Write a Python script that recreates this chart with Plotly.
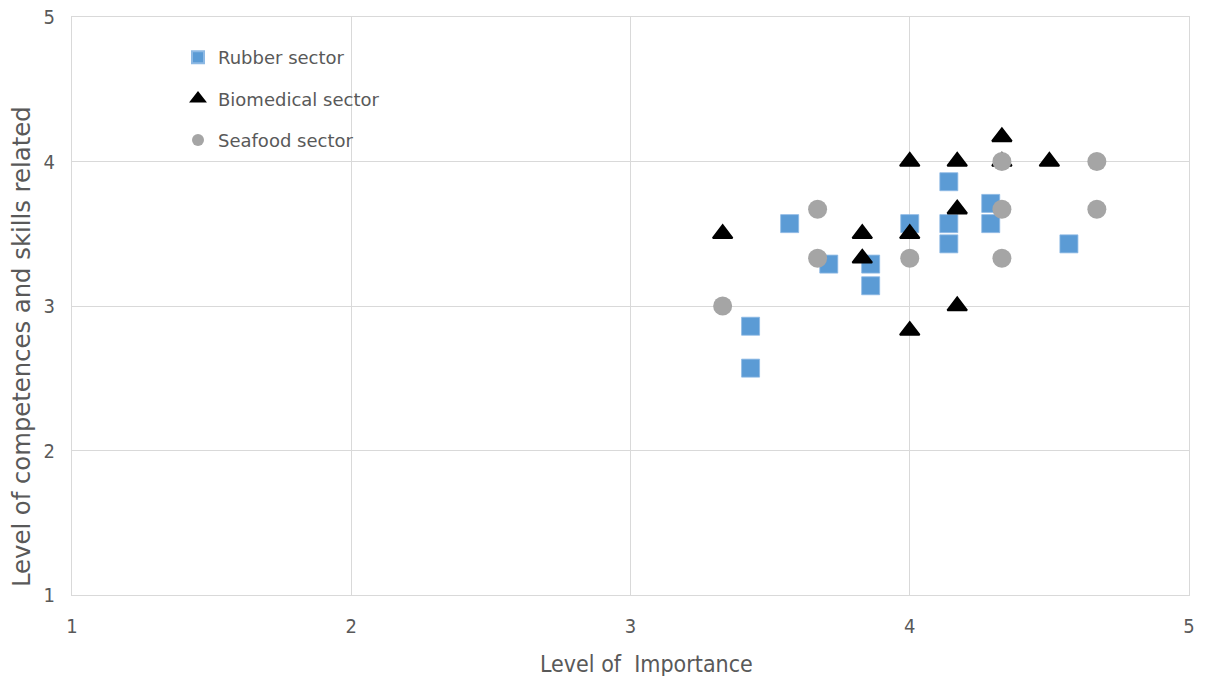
import plotly.graph_objects as go

# Rubber sector
rubber_x = [3.43, 3.43, 3.57, 3.71, 3.86, 3.86, 4.00, 4.14, 4.14, 4.14, 4.29, 4.29, 4.57]
rubber_y = [2.57, 2.86, 3.57, 3.29, 3.29, 3.14, 3.57, 3.86, 3.57, 3.43, 3.71, 3.57, 3.43]

# Biomedical sector
bio_x = [3.33, 3.83, 3.83, 4.00, 4.00, 4.00, 4.17, 4.17, 4.17, 4.33, 4.33, 4.50]
bio_y = [3.50, 3.50, 3.33, 4.00, 3.50, 2.83, 4.00, 3.67, 3.00, 4.17, 4.00, 4.00]

# Seafood sector
sea_x = [3.33, 3.67, 3.67, 4.00, 4.33, 4.33, 4.33, 4.67, 4.67]
sea_y = [3.00, 3.67, 3.33, 3.33, 4.00, 3.67, 3.33, 4.00, 3.67]

tick_vals = [1, 2, 3, 4, 5]
x_title = "Level of  Importance"
y_title = "Level of competences and skills related"

NARROW = "'Liberation Sans Narrow', 'DejaVu Sans Condensed', 'Roboto Condensed', 'Arial Narrow', sans-serif"
WIDE = "'DejaVu Sans', sans-serif"
TXT = "#595959"
GRID = "#D9D9D9"

# the page body adds an 8px offset; the figure is sized to fill the rest
W, H = 1199, 668
L, R, T, B = 64, 18, 9, 81
PW, PH = W - L - R, H - T - B

fig = go.Figure()
fig.add_trace(go.Scatter(
    x=rubber_x, y=rubber_y, mode="markers", name="Rubber sector",
    legendgroup="r",
    marker=dict(symbol="square", size=18, color="#5B9BD5",
                line=dict(color="#8DB9E4", width=0.8))))
fig.add_trace(go.Scatter(
    x=bio_x, y=bio_y, mode="markers", name="Biomedical sector",
    legendgroup="b",
    marker=dict(symbol="triangle-up", size=17, color="#000000",
                line=dict(color="#000000", width=2))))
fig.add_trace(go.Scatter(
    x=sea_x, y=sea_y, mode="markers", name="Seafood sector",
    legendgroup="s",
    marker=dict(symbol="circle", size=19, color="#A5A5A5",
                line=dict(color="#A5A5A5", width=0))))

fig.update_layout(
    width=W, height=H,
    margin=dict(l=L, r=R, t=T, b=B, autoexpand=False),
    paper_bgcolor="white", plot_bgcolor="white",
    font=dict(family=NARROW, size=20, color=TXT),
    showlegend=True,
    legend=dict(x=(170 - 64) / PW, y=(587 - 31) / PH, xanchor="left", yanchor="top",
                bgcolor="rgba(0,0,0,0)",
                font=dict(family=WIDE, size=18, color=TXT),
                itemsizing="constant", traceorder="grouped",
                tracegroupgap=15),
    xaxis=dict(range=[1, 5], tickvals=tick_vals, showgrid=True,
               gridcolor=GRID, gridwidth=1.3, zeroline=False,
               showline=True, linecolor=GRID, linewidth=1.3, mirror=True,
               ticks="outside", ticklen=13, tickcolor="rgba(0,0,0,0)",
               automargin=False, ticklabeloverflow="allow",
               tickfont=dict(family=NARROW, size=20, color=TXT)),
    yaxis=dict(range=[1, 5], tickvals=tick_vals, showgrid=True,
               gridcolor=GRID, gridwidth=1.3, zeroline=False,
               showline=True, linecolor=GRID, linewidth=1.3, mirror=True,
               ticks="outside", ticklen=12, tickcolor="rgba(0,0,0,0)",
               automargin=False, ticklabeloverflow="allow",
               tickfont=dict(family=NARROW, size=20, color=TXT)),
    annotations=[
        dict(text=x_title, xref="paper", yref="paper",
             x=(638 - L) / PW, y=-(656 - 587) / PH,
             xanchor="center", yanchor="middle", showarrow=False,
             font=dict(family=NARROW, size=23, color=TXT)),
        dict(text=y_title, xref="paper", yref="paper",
             x=-(L - 13) / PW, y=(587 - 339) / PH,
             xanchor="center", yanchor="middle", showarrow=False,
             textangle=-90, font=dict(family=WIDE, size=24.3, color=TXT)),
    ],
)

fig.write_html("out.html")
